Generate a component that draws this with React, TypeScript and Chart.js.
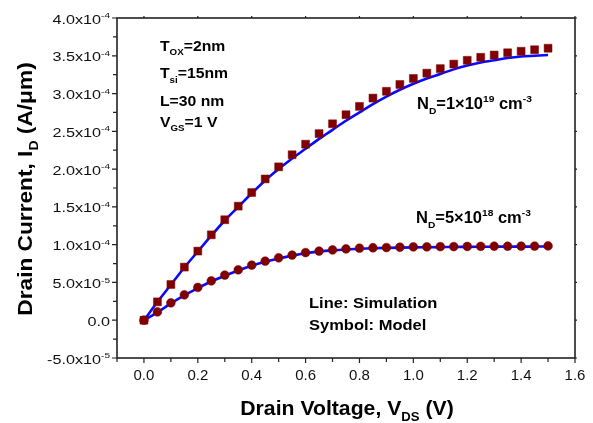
import React, { useEffect, useRef } from "react";
import { Chart, registerables } from "chart.js";

Chart.register(...registerables);

// Drain voltage sweep (V)
const vds = [
  0, 0.05, 0.1, 0.15, 0.2, 0.25, 0.3, 0.35, 0.4, 0.45, 0.5, 0.55, 0.6, 0.65, 0.7, 0.75,
  0.8, 0.85, 0.9, 0.95, 1.0, 1.05, 1.1, 1.15, 1.2, 1.25, 1.3, 1.35, 1.4, 1.45, 1.5,
];

// Drain current, in units of 1e-5 A/um
const modelHigh = [
  0, 2.43, 4.73, 7.03, 9.15, 11.3, 13.3, 15.1, 16.9, 18.7, 20.3, 21.9, 23.3, 24.7, 26.0, 27.2,
  28.3, 29.4, 30.3, 31.2, 32.0, 32.7, 33.3, 33.9, 34.4, 34.8, 35.1, 35.4, 35.6, 35.8, 36.0,
];
const simHigh = [
  0, 2.4, 4.7, 6.98, 9.1, 11.2, 13.2, 15.0, 16.8, 18.5, 20.0, 21.4, 22.7, 24.0, 25.2, 26.4,
  27.5, 28.6, 29.6, 30.5, 31.3, 32.0, 32.6, 33.2, 33.7, 34.1, 34.4, 34.7, 34.9, 35.0, 35.1,
];
const modelLow = [
  0, 1.1, 2.3, 3.36, 4.34, 5.21, 5.97, 6.67, 7.29, 7.82, 8.26, 8.62, 8.95, 9.15, 9.3, 9.44,
  9.53, 9.59, 9.62, 9.66, 9.7, 9.71, 9.74, 9.75, 9.76, 9.78, 9.79, 9.79, 9.8, 9.81, 9.84,
];
const simLow = [
  0, 1.05, 2.22, 3.28, 4.25, 5.12, 5.88, 6.58, 7.2, 7.74, 8.18, 8.55, 8.86, 9.08, 9.24, 9.36,
  9.45, 9.52, 9.57, 9.61, 9.64, 9.66, 9.68, 9.7, 9.71, 9.72, 9.73, 9.74, 9.74, 9.75, 9.75,
];

const xMajorTicks = [0, 0.2, 0.4, 0.6, 0.8, 1.0, 1.2, 1.4, 1.6];
const xMinorTicks = [-0.1, 0.1, 0.3, 0.5, 0.7, 0.9, 1.1, 1.3, 1.5];
const yMajorTicks = [-5e-5, 0, 5e-5, 1e-4, 1.5e-4, 2e-4, 2.5e-4, 3e-4, 3.5e-4, 4e-4];
const yMinorTicks = [-2.5e-5, 2.5e-5, 7.5e-5, 1.25e-4, 1.75e-4, 2.25e-4, 2.75e-4, 3.25e-4, 3.75e-4];

const X_MIN = -0.1;
const X_MAX = 1.6;
const Y_MIN = -5e-5;
const Y_MAX = 4e-4;

const MARKER = "#800000";
const LINE = "#0a0aff";
const FONT = '"Liberation Sans", Arial, sans-serif';

type Seg = { t: string; k?: "sub" | "sup" };

const toPoints = (ys: number[]) => vds.map((x, i) => ({ x, y: ys[i] * 1e-5 }));

function sciLabel(v: number): Seg[] {
  if (v === 0) return [{ t: "0.0" }];
  const [m, e] = v.toExponential(1).split("e");
  return [{ t: `${m}x10` }, { t: String(parseInt(e, 10)), k: "sup" }];
}

function drawRich(
  ctx: CanvasRenderingContext2D,
  segs: Seg[],
  x: number,
  y: number,
  size: number,
  opt: { bold?: boolean; align?: "left" | "center" | "right"; stretch?: number; small?: number; supUp?: number; subDown?: number } = {}
) {
  const bold = opt.bold ? "bold " : "";
  const small = opt.small ?? 0.62;
  const supUp = opt.supUp ?? 0.42;
  const subDown = opt.subDown ?? 0.3;
  const stretch = opt.stretch ?? 1;
  const fontFor = (s: Seg) => `${bold}${s.k ? size * small : size}px ${FONT}`;
  ctx.save();
  ctx.translate(x, y);
  ctx.scale(stretch, 1);
  ctx.textBaseline = "alphabetic";
  ctx.textAlign = "left";
  let total = 0;
  const widths = segs.map((s) => {
    ctx.font = fontFor(s);
    const w = ctx.measureText(s.t).width;
    total += w;
    return w;
  });
  let cx = opt.align === "center" ? -total / 2 : opt.align === "right" ? -total : 0;
  segs.forEach((s, i) => {
    ctx.font = fontFor(s);
    const dy = s.k === "sup" ? -size * supUp : s.k === "sub" ? size * subDown : 0;
    ctx.fillText(s.t, cx, dy);
    cx += widths[i];
  });
  ctx.restore();
}

const framePlugin = {
  id: "frameAndLabels",
  afterDraw(chart: any) {
    const { ctx, chartArea } = chart;
    const { left, right, top, bottom } = chartArea;
    const xs = chart.scales.x;
    const ys = chart.scales.y;
    ctx.save();
    ctx.fillStyle = "#000";
    ctx.strokeStyle = "#222";

    // frame
    ctx.lineWidth = 1.6;
    ctx.strokeRect(left, top, right - left, bottom - top);

    // ticks
    ctx.lineWidth = 1.2;
    ctx.beginPath();
    xMajorTicks.forEach((v) => {
      const px = xs.getPixelForValue(v);
      ctx.moveTo(px, bottom);
      ctx.lineTo(px, bottom + 5);
      ctx.moveTo(px, top);
      ctx.lineTo(px, top - 2);
    });
    xMinorTicks.forEach((v) => {
      const px = xs.getPixelForValue(v);
      ctx.moveTo(px, bottom);
      ctx.lineTo(px, bottom + 4);
    });
    yMajorTicks.forEach((v) => {
      const py = ys.getPixelForValue(v);
      ctx.moveTo(left, py);
      ctx.lineTo(left - 5, py);
      ctx.moveTo(right, py);
      ctx.lineTo(right + 2, py);
    });
    yMinorTicks.forEach((v) => {
      const py = ys.getPixelForValue(v);
      ctx.moveTo(left, py);
      ctx.lineTo(left - 4, py);
    });
    ctx.stroke();

    // tick labels
    ctx.fillStyle = "#111";
    xMajorTicks.forEach((v) => {
      drawRich(ctx, [{ t: v.toFixed(1) }], xs.getPixelForValue(v), bottom + 22, 15, { align: "center" });
    });
    yMajorTicks.forEach((v) => {
      drawRich(ctx, sciLabel(v), left - 7, ys.getPixelForValue(v) + 5.5, 12, {
        align: "right",
        stretch: 1.35,
        small: 0.62,
        supUp: 0.45,
      });
    });

    // axis titles
    ctx.fillStyle = "#000";
    drawRich(
      ctx,
      [{ t: "Drain Voltage, V" }, { t: "DS", k: "sub" }, { t: " (V)" }],
      (left + right) / 2 + 1,
      415,
      20,
      { bold: true, align: "center", stretch: 1.06 }
    );
    ctx.save();
    ctx.translate(32, (top + bottom) / 2 + 1);
    ctx.rotate(-Math.PI / 2);
    drawRich(ctx, [{ t: "Drain Current, I" }, { t: "D", k: "sub" }, { t: " (A/\u03bcm)" }], 0, 0, 21, {
      bold: true,
      align: "center",
      stretch: 1.08,
    });
    ctx.restore();

    // device parameters
    const params: Seg[][] = [
      [{ t: "T" }, { t: "OX", k: "sub" }, { t: "=2nm" }],
      [{ t: "T" }, { t: "si", k: "sub" }, { t: "=15nm" }],
      [{ t: "L=30 nm" }],
      [{ t: "V" }, { t: "GS", k: "sub" }, { t: "=1 V" }],
    ];
    const paramBase = [50.7, 78.3, 106, 126.7];
    params.forEach((segs, i) => drawRich(ctx, segs, 160, paramBase[i], 15, { bold: true, stretch: 1.05 }));

    // doping labels
    drawRich(
      ctx,
      [{ t: "N" }, { t: "D", k: "sub" }, { t: "=1\u00d710" }, { t: "19", k: "sup" }, { t: " cm" }, { t: "-3", k: "sup" }],
      417,
      109,
      16,
      { bold: true, stretch: 1.03 }
    );
    drawRich(
      ctx,
      [{ t: "N" }, { t: "D", k: "sub" }, { t: "=5\u00d710" }, { t: "18", k: "sup" }, { t: " cm" }, { t: "-3", k: "sup" }],
      416,
      223,
      16,
      { bold: true, stretch: 1.03 }
    );

    // legend text
    drawRich(ctx, [{ t: "Line: Simulation" }], 309, 308, 15, { bold: true, stretch: 1.1 });
    drawRich(ctx, [{ t: "Symbol: Model" }], 309, 330, 15, { bold: true, stretch: 1.1 });

    ctx.restore();
  },
};

export default function App() {
  const ref = useRef<HTMLCanvasElement>(null);

  useEffect(() => {
    if (!ref.current) return;
    const chart = new Chart(ref.current, {
      type: "scatter",
      data: {
        datasets: [
          {
            label: "Model 1e19",
            data: toPoints(modelHigh),
            pointStyle: "rect",
            pointRadius: 5.6,
            backgroundColor: MARKER,
            borderColor: MARKER,
            borderWidth: 0.5,
            showLine: false,
          },
          {
            label: "Model 5e18",
            data: toPoints(modelLow),
            pointStyle: "circle",
            pointRadius: 4.4,
            backgroundColor: MARKER,
            borderColor: MARKER,
            borderWidth: 0.5,
            showLine: false,
          },
          {
            label: "Simulation 1e19",
            data: toPoints(simHigh),
            showLine: true,
            borderColor: LINE,
            borderWidth: 2.6,
            pointRadius: 0,
            cubicInterpolationMode: "monotone",
          },
          {
            label: "Simulation 5e18",
            data: toPoints(simLow),
            showLine: true,
            borderColor: LINE,
            borderWidth: 2.6,
            pointRadius: 0,
            cubicInterpolationMode: "monotone",
          },
        ],
      },
      options: {
        animation: false,
        responsive: false,
        devicePixelRatio: 1,
        layout: { padding: { left: 117, right: 18, top: 18, bottom: 65 } },
        plugins: { legend: { display: false }, tooltip: { enabled: false } },
        scales: {
          x: { type: "linear", min: X_MIN, max: X_MAX, display: false },
          y: { type: "linear", min: Y_MIN, max: Y_MAX, display: false },
        },
      },
      plugins: [framePlugin],
    });
    return () => chart.destroy();
  }, []);

  return (
    <div style={{ position: "fixed", left: 0, top: 0, width: 593, height: 423, background: "#fff" }}>
      <canvas ref={ref} width={593} height={423} />
    </div>
  );
}
